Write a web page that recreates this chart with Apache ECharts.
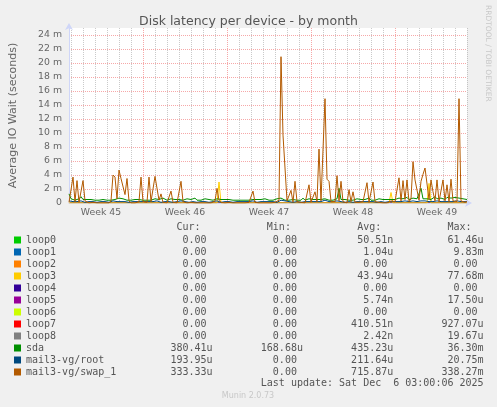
<!DOCTYPE html>
<html>
<head>
<meta charset="utf-8">
<script src="https://cdn.jsdelivr.net/npm/echarts@6/dist/echarts.min.js"></script>
<style>
  html, body { margin: 0; padding: 0; background: #f0f0f0; }
  #chart { width: 497px; height: 407px; }
</style>
</head>
<body>
<div id="chart"></div>
<script>
// 4-hour samples, first one Sun 2 Nov 2025 20:00, values in milliseconds
var startMs = Date.UTC(2025, 10, 2, 20);
var stepMs = 4 * 3600 * 1000;

var sdaMs = [
  1.3, 0.6, 0.5, 0.4, 0.5, 0.6, 0.9, 0.5, 0.4, 0.5, 0.4, 0.5, 0.4, 0.4, 0.5, 0.4, 0.4, 0.5, 0.4, 0.4,
  0.5, 0.4, 0.6, 0.5, 0.5, 0.7, 0.5, 0.6, 0.5, 0.4, 0.5, 0.4, 0.4, 0.5, 0.4, 0.5, 0.6, 0.4, 0.5, 0.4,
  0.5, 0.4, 0.5, 0.6, 0.5, 0.5, 0.4, 0.7, 0.5, 0.4, 0.5, 0.6, 0.4, 0.5, 0.4, 0.5, 0.4, 0.4, 0.5, 0.6,
  0.4, 0.5, 0.4, 0.7, 0.4, 0.5, 0.4, 0.5, 0.6, 0.4, 0.5, 0.4, 0.4, 0.5, 0.6, 0.4, 0.5, 0.4, 0.5, 0.4,
  0.5, 0.6, 0.4, 0.5, 0.4, 0.5, 0.4, 0.5, 0.4, 0.5, 0.4, 0.6, 0.5, 0.4, 0.5, 0.4, 0.5, 0.4, 0.6, 0.5,
  0.4, 0.5, 0.4, 0.5, 0.6, 0.5, 0.7, 0.5, 0.4, 0.5, 0.4, 0.6, 0.5, 0.5, 0.4, 0.5, 0.4, 0.7, 0.4, 0.5,
  0.6, 0.4, 0.5, 0.4, 0.5, 0.6, 0.5, 0.4, 0.6, 0.5, 0.4, 0.5, 0.4, 0.5, 0.6, 2.1, 0.5, 0.4, 0.5, 0.6,
  0.4, 0.5, 0.4, 0.5, 0.6, 0.4, 0.5, 0.4, 0.5, 0.4, 0.7, 0.4, 0.5, 0.4, 0.5, 0.6, 0.4, 0.5, 0.4, 0.5,
  0.4, 0.5, 0.6, 0.5, 0.6, 0.7, 0.5, 0.6, 0.5, 0.8, 0.5, 0.6, 0.7, 0.5, 0.6, 0.7, 2.1, 0.6, 0.8, 0.6,
  0.7, 0.5, 0.6, 0.9, 0.6, 0.5, 0.7, 0.6, 0.5, 0.8, 0.6, 0.7, 0.6, 0.8, 1.0, 0.7, 0.5, 0.6, 0.5, 0.5
];
var rootMs = [
  0.3, 0.2, 0.2, 0.1, 0.2, 0.2, 0.3, 0.2, 0.1, 0.2, 0.2, 0.1, 0.2, 0.2, 0.1, 0.2, 0.2, 0.1, 0.2, 0.2,
  0.1, 0.2, 0.3, 0.2, 0.2, 0.3, 0.2, 0.2, 0.2, 0.3, 0.1, 0.2, 0.2, 0.1, 0.2, 0.2, 0.2, 0.1, 0.2, 0.2,
  0.2, 0.1, 0.2, 0.2, 0.3, 0.2, 0.1, 0.2, 0.2, 0.1, 0.2, 0.2, 0.1, 0.2, 0.2, 0.2, 0.3, 0.1, 0.2, 0.2,
  0.1, 0.2, 0.2, 0.2, 0.1, 0.2, 0.2, 0.1, 0.2, 0.2, 0.1, 0.2, 0.2, 0.2, 0.3, 0.2, 0.1, 0.2, 0.2, 0.1,
  0.2, 0.2, 0.1, 0.2, 0.2, 0.1, 0.2, 0.2, 0.2, 0.1, 0.2, 0.2, 0.3, 0.2, 0.1, 0.2, 0.2, 0.1, 0.2, 0.2,
  0.2, 0.1, 0.2, 0.2, 0.1, 0.2, 0.4, 0.3, 0.3, 0.2, 0.2, 0.2, 0.1, 0.3, 0.2, 0.2, 0.1, 0.2, 0.2, 0.1,
  0.2, 0.2, 0.2, 0.1, 0.2, 0.3, 0.2, 0.2, 0.4, 0.2, 0.2, 0.1, 0.2, 0.2, 0.3, 0.3, 0.2, 0.2, 0.1, 0.2,
  0.2, 0.2, 0.1, 0.2, 0.2, 0.1, 0.2, 0.2, 0.2, 0.3, 0.2, 0.1, 0.2, 0.2, 0.1, 0.2, 0.2, 0.2, 0.1, 0.2,
  0.2, 0.3, 0.2, 0.2, 0.2, 0.3, 0.2, 0.2, 0.3, 0.2, 0.2, 0.3, 0.3, 0.2, 0.2, 0.2, 0.3, 0.3, 0.3, 0.2,
  0.2, 0.3, 0.2, 0.2, 0.3, 0.2, 0.2, 0.3, 0.2, 0.2, 0.2, 0.3, 0.2, 0.2, 0.3, 0.3, 0.2, 0.2, 0.2, 0.2
];
var swapMs = [
  0.1, 0.3, 3.7, 0.2, 3.2, 0.1, 0.2, 3.2, 0.3, 0.1, 0, 0, 0.1, 0, 0, 0.1, 0, 0.2, 0, 0.1,
  0, 0.3, 4.0, 3.7, 0.6, 4.7, 3.5, 3.3, 1.2, 3.5, 0.3, 0, 0.1, 0, 0, 0.2, 3.7, 0.2, 0, 0.1,
  3.7, 0.2, 0.1, 3.8, 3.6, 0.4, 1.3, 0.1, 0, 0, 0.2, 1.7, 0.1, 0, 0, 0.1, 3.1, 0.2, 0, 0,
  0, 0.1, 0, 0, 0.1, 0, 0, 0, 0.1, 0, 0, 0, 0.1, 0.3, 2.1, 0.4, 0.1, 0, 0, 0,
  0.1, 0, 0, 0, 0, 0.1, 0, 0, 0, 0, 0.1, 0.2, 1.7, 0.1, 0, 0, 0, 0, 0.1, 0,
  0, 0, 0, 0.1, 0, 0.4, 20.9, 9.7, 9.5, 0.3, 0.1, 1.8, 0.1, 3.1, 0.2, 0, 0.1, 0, 0, 0.2,
  2.6, 0.1, 0.2, 1.6, 0.2, 7.7, 0.3, 0.1, 14.9, 3.4, 3.1, 0.2, 0.1, 0.2, 3.9, 0.3, 3.1, 0.2, 0.1, 0,
  1.9, 0.2, 1.6, 0.1, 0, 0.1, 0, 0.2, 0.1, 2.9, 0.1, 0, 3.0, 0.2, 0, 0.1, 0, 0, 0.1, 0,
  0.2, 0.3, 0.1, 0.2, 0.4, 3.6, 0.3, 3.2, 0.5, 3.3, 0.2, 0.6, 5.9, 3.3, 3.3, 0.4, 3.1, 4.1, 5.0, 4.8,
  0.5, 3.3, 1.6, 0.3, 3.3, 0.2, 0.4, 3.3, 0.3, 2.6, 0.2, 3.4, 0.3, 0.1, 0.2, 14.9, 0.3, 0.2, 0.1, 0.2
];
// loop devices: [sample index, ms] points, flat zero elsewhere
var loopFlat = [[0, 0], [199, 0]];
var loop3Ms = [[0, 0], [74, 0], [75, 3.0], [76, 0], [160, 0], [161, 1.5], [162, 0], [179, 0], [180, 2.8], [181, 0], [199, 0]];

var names = ['loop0', 'loop1', 'loop2', 'loop3', 'loop4', 'loop5', 'loop6', 'loop7', 'loop8', 'sda', 'mail3-vg/root', 'mail3-vg/swap_1'];
var colors = ['#00cc00', '#0066b3', '#ff8000', '#ffcc00', '#330099', '#990099', '#ccff00', '#ff0000', '#808080', '#008f00', '#00487d', '#b35a00'];
var curVals = ['0.00', '0.00', '0.00', '0.00', '0.00', '0.00', '0.00', '0.00', '0.00', '380.41u', '193.95u', '333.33u'];
var minVals = ['0.00', '0.00', '0.00', '0.00', '0.00', '0.00', '0.00', '0.00', '0.00', '168.68u', '0.00', '0.00'];
var avgVals = ['50.51n', '1.04u', '0.00', '43.94u', '0.00', '5.74n', '0.00', '410.51n', '2.42n', '435.23u', '211.64u', '715.87u'];
var maxVals = ['61.46u', '9.83m', '0.00', '77.68m', '0.00', '17.50u', '0.00', '927.07u', '19.67u', '36.30m', '20.75m', '338.27m'];
var weekLabels = ['Week 45', 'Week 46', 'Week 47', 'Week 48', 'Week 49'];
var yTicks = [0, 2, 4, 6, 8, 10, 12, 14, 16, 18, 20, 22, 24];

var times = sdaMs.map(function (v, i) { return startMs + i * stepMs; });
var seriesData = [loopFlat, loopFlat, loopFlat, loop3Ms, loopFlat, loopFlat, loopFlat, loopFlat, loopFlat, sdaMs, rootMs, swapMs];

function isoWeek(ms) {
  var d = new Date(ms);
  var day = (d.getUTCDay() + 6) % 7;
  var thu = new Date(Date.UTC(d.getUTCFullYear(), d.getUTCMonth(), d.getUTCDate() - day + 3));
  var jan4 = new Date(Date.UTC(thu.getUTCFullYear(), 0, 4));
  return 1 + Math.round(((thu - jan4) / 86400000 - 3 + (jan4.getUTCDay() + 6) % 7) / 7);
}
function isMidnight(i) { return new Date(times[i]).getUTCHours() === 0; }
function isWeekStart(i) { return isMidnight(i) && new Date(times[i]).getUTCDay() === 0; }
function isWeekMid(i) {
  var d = new Date(times[i]);
  return d.getUTCDay() === 3 && d.getUTCHours() === 12 && weekLabels.indexOf('Week ' + isoWeek(times[i])) >= 0;
}
function field(s) {
  var suf = /[a-z]$/.test(s) ? s.slice(-1) : ' ';
  var num = suf === ' ' ? s : s.slice(0, -1);
  return num.padStart(6) + suf;
}
var gap = '        ';

var chart = echarts.init(document.getElementById('chart'));
chart.setOption({
  backgroundColor: '#f0f0f0',
  animation: false,
  title: {
    text: 'Disk latency per device - by month',
    left: 'center',
    top: 10,
    textStyle: { fontFamily: 'DejaVu Sans', fontSize: 12.5, fontWeight: 'normal', color: '#555' }
  },
  grid: { left: 67, right: 30, top: 28, bottom: 204, show: true, backgroundColor: '#fff', borderWidth: 0 },
  legend: {
    orient: 'vertical',
    left: 14,
    top: 234,
    padding: 0,
    itemGap: 0,
    itemWidth: 7,
    itemHeight: 7,
    icon: 'rect',
    selectedMode: false,
    data: names,
    textStyle: { fontFamily: 'DejaVu Sans Mono', fontSize: 10, lineHeight: 12, color: '#555' },
    formatter: function (name) {
      var i = names.indexOf(name);
      return name.padEnd(24) + field(curVals[i]) + gap + field(minVals[i]) + gap + field(avgVals[i]) + gap + field(maxVals[i]);
    }
  },
  xAxis: [{
    type: 'category',
    data: times,
    boundaryGap: false,
    z: 1.5,
    axisLine: { lineStyle: { color: '#cfd6f8' }, symbol: ['none', 'arrow'], symbolSize: [6, 7], symbolOffset: [0, 5] },
    axisTick: { show: false },
    axisLabel: {
      interval: function (i) { return isWeekMid(i); },
      formatter: function (v, i) { return 'Week ' + isoWeek(times[i]); },
      color: '#666', fontFamily: 'DejaVu Sans', fontSize: 9.33, margin: 5
    },
    splitLine: {
      show: true,
      interval: function (i) { return isWeekStart(i); },
      lineStyle: { color: 'rgba(240,110,110,0.6)', type: [1, 1], width: 1 }
    }
  }, {
    type: 'category',
    data: times,
    boundaryGap: false,
    position: 'top',
    axisLine: { show: false },
    axisTick: { show: false },
    axisLabel: { show: false },
    splitLine: {
      show: true,
      interval: function (i) { return isMidnight(i) && !isWeekStart(i); },
      lineStyle: { color: 'rgba(150,150,150,0.5)', type: [1, 1], width: 1 }
    }
  }],
  yAxis: {
    type: 'value',
    min: 0,
    max: 25,
    z: 1.5,
    name: 'Average IO Wait (seconds)',
    nameLocation: 'middle',
    nameGap: 50,
    nameTextStyle: { fontFamily: 'DejaVu Sans', fontSize: 11, color: '#666' },
    axisLine: { show: true, lineStyle: { color: '#cfd6f8' }, symbol: ['none', 'arrow'], symbolSize: [6, 7], symbolOffset: [0, 5] },
    axisTick: { show: false, customValues: yTicks },
    axisLabel: {
      customValues: yTicks,
      formatter: function (v) { return v === 0 ? '0' : v + ' m'; },
      color: '#666', fontFamily: 'DejaVu Sans', fontSize: 9.33, margin: 7
    },
    splitLine: { show: true, lineStyle: { color: 'rgba(240,110,110,0.6)', type: [1, 1], width: 1 } }
  },
  series: names.map(function (n, i) {
    return {
      name: n,
      type: 'line',
      xAxisIndex: 0,
      z: seriesData[i] === loopFlat ? 1 : 2,
      data: seriesData[i],
      color: colors[i],
      showSymbol: false,
      symbol: 'none',
      lineStyle: { width: 1 },
      emphasis: { disabled: true }
    };
  }),
  graphic: [
    {
      type: 'text', x: 26, y: 227,
      style: {
        text: ' '.repeat(25) + 'Cur:' + ' '.repeat(11) + 'Min:' + ' '.repeat(11) + 'Avg:' + ' '.repeat(11) + 'Max:',
        font: '10px "DejaVu Sans Mono"', fill: '#555', verticalAlign: 'middle'
      }
    },
    {
      type: 'text', x: 26, y: 383,
      style: {
        text: ' '.repeat(39) + 'Last update: Sat Dec  6 03:00:06 2025',
        font: '10px "DejaVu Sans Mono"', fill: '#555', verticalAlign: 'middle'
      }
    },
    {
      type: 'text', x: 248, y: 396,
      style: { text: 'Munin 2.0.73', font: '8px "DejaVu Sans"', fill: '#c8c8c8', align: 'center', verticalAlign: 'middle' }
    },
    {
      type: 'text', x: 488, y: 5, rotation: -Math.PI / 2,
      style: { text: 'RRDTOOL / TOBI OETIKER', font: '7.5px "DejaVu Sans"', fill: '#c8c8c8', align: 'left', verticalAlign: 'middle' }
    }
  ]
});
</script>
</body>
</html>
